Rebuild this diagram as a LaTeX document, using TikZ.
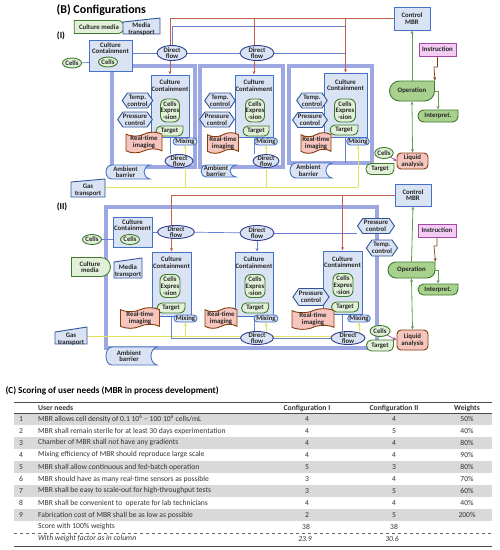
\documentclass[tikz,border=0pt]{standalone}
\usepackage{fontspec}
\setmainfont{Carlito}
\usetikzlibrary{shapes.geometric,shapes.symbols,shapes.misc,arrows.meta,calc}
\pgfdeclarelayer{fr}\pgfdeclarelayer{bg}\pgfsetlayers{fr,bg,main}
\definecolor{bfill}{HTML}{DAE3F3}
\definecolor{bdraw}{HTML}{2F5597}
\definecolor{ccdraw}{HTML}{4472C4}
\definecolor{dfdraw}{HTML}{2F3B8F}
\definecolor{framec}{HTML}{9DA8E2}
\definecolor{gfill}{HTML}{E2F0D9}
\definecolor{gdraw}{HTML}{3D7A2E}
\definecolor{opfill}{HTML}{A9D18E}
\definecolor{rfill}{HTML}{F6C5BE}
\definecolor{rdraw}{HTML}{843C0C}
\definecolor{redl}{HTML}{C0604D}
\definecolor{lblue}{HTML}{6A80D0}
\definecolor{yell}{HTML}{E3E35A}
\definecolor{gline}{HTML}{5E9E4E}
\definecolor{ifill}{HTML}{F3CBF3}
\definecolor{idraw}{HTML}{A349A4}
\definecolor{rowgray}{HTML}{D9D9D9}
\tikzset{
 base/.style={font=\fontsize{6.8}{6.7}\selectfont\bfseries, align=center, inner sep=0pt, line width=0.9pt, text=black!85},
 ccbox/.style={base, rectangle, draw=ccdraw, fill=bfill},
 hexa/.style={base, signal, signal to=east and west, signal pointer angle=110, draw=bdraw, fill=bfill},
 dflow/.style={base, ellipse, draw=dfdraw, fill=bfill, inner ysep=-1.5pt},
 mixs/.style={base, rounded rectangle, draw=ccdraw, fill=bfill},
 gcell/.style={base, ellipse, draw=gdraw, fill=gfill},
 cexp/.style={base, rectangle, rounded corners=6pt, draw=gdraw, fill=gfill},
 cmedia/.style={base, rounded rectangle, rounded rectangle left arc=none, draw=gdraw, fill=gfill},
 rti/.style={base, tape, tape bend height=4pt, draw=rdraw, fill=rfill},
 liq/.style={base, rectangle, rounded corners=4pt, draw=rdraw, fill=rfill},
 instr/.style={base, rectangle, draw=idraw, fill=ifill},
 txt/.style={base, draw=none, fill=none},
 frm/.style={draw=framec, line width=3.5pt},
 bl/.style={draw=lblue, line width=0.7pt},
 rl/.style={draw=redl, line width=0.8pt},
 yl/.style={draw=yell, line width=0.9pt},
 gl/.style={draw=gline, line width=0.8pt},
 brl/.style={draw=rdraw, line width=0.7pt},
 pl/.style={draw=idraw, line width=0.7pt},
 tip/.style={-{Stealth[length=3.5pt,width=3pt]}},
 tips2/.style={{Stealth[length=3.5pt,width=3pt]}-{Stealth[length=3.5pt,width=3pt]}},
 tb/.style={font=\fontsize{7.6}{8}\selectfont, text=black!80, inner sep=0pt},
 tbh/.style={tb, font=\fontsize{7.6}{8}\selectfont\bfseries},
 tbi/.style={tb, font=\fontsize{7.6}{8}\selectfont\itshape},
}
% leaf shape: name, x, y, w, h, radius, colours, text
\newcommand\leafshape[8]{%
 \filldraw[#7, line width=0.9pt, line cap=rect, rounded corners=#6]
   ({#2+#4/2},{#3-#5/2}) -- ({#2+#4/2},{#3+#5/2}) -- ({#2-#4/2},{#3+#5/2}) -- ({#2-#4/2},{#3-#5/2}) -- ({#2+#4/2},{#3-#5/2});
 \node[txt, minimum width=#4, minimum height=#5] (#1) at (#2,#3) {#8};}
% manual input: name, x1, x2, ytopleft, ytopright, ybottom, text
\newcommand\minput[7]{%
 \filldraw[draw=bdraw, fill=bfill, line width=0.9pt] (#2,#4) -- (#3,#5) -- (#3,#6) -- (#2,#6) -- cycle;
 \node[txt] (#1) at ({(#2+#3)/2},{(#4+#6)/2+1}) {#7};}
% ambient barrier: name, x1, x2, y1, y2, text
\newcommand\ambient[6]{%
 \filldraw[draw=ccdraw, fill=bfill, line width=0.9pt] (#3,#4) -- ({#2+7},#4) .. controls ({#2-1},#4) and ({#2-1},#5) .. ({#2+7},#5) -- (#3,#5) .. controls ({#3-8},{#5-2}) and ({#3-8},{#4+2}) .. (#3,#4) -- cycle;
 \node[txt] (#1) at ({(#2+#3)/2-2},{(#4+#5)/2}) {#6};}
\newcommand\trow[6]{%
 \node[tb] (n#1) at (21,#2) {#1};
 \node[tb, anchor=west] (t#1) at (38,#2) {#3};
 \node[tb] (a#1) at (307,#2) {#4};
 \node[tb] (b#1) at (394,#2) {#5};
 \node[tb] (w#1) at (467,#2) {#6\%};}
\begin{document}
\begin{tikzpicture}[x=1pt,y=-1pt]
\useasboundingbox (0,0) rectangle (500,550);
\begin{pgfonlayer}{fr}
\draw[frm] (112,66) rectangle (195,167);
\draw[frm] (200,66) rectangle (283,167);
\draw[frm] (289,66) rectangle (372,163);
\draw[frm] (106,207) rectangle (377,348);
\end{pgfonlayer}

% ---------- titles
\node[anchor=west, font=\fontsize{12}{13}\selectfont\bfseries] (tB) at (53,10) {(B) Configurations};
\node[font=\fontsize{9}{10}\selectfont\bfseries] (tI) at (61,36) {(I)};
\node[font=\fontsize{9}{10}\selectfont\bfseries] (tII) at (62,207) {(II)};

% ---------- configuration I, top left
\node[cmedia, minimum width=50, minimum height=13] (cm1) at (99,27) {Culture media};
\minput{mt1}{123}{160}{22}{18}{34}{Media\\transport}
\node[ccbox, minimum width=43, minimum height=31] (cc0) at (110.5,55.5) {};
\node[txt] (cc0t) at (110.5,48) {Culture\\Containment};
\node[gcell, minimum width=19, minimum height=10] (ci0) at (108,62) {Cells};
\node[gcell, minimum width=19, minimum height=10] (co0) at (72,63) {Cells};
\node[dflow, minimum width=30, minimum height=15] (df1) at (172,53) {Direct\\flow};
\node[dflow, minimum width=34, minimum height=15] (df2) at (257,53) {Direct\\flow};

% module 1
\node[ccbox, minimum width=38, minimum height=62] (cc1) at (170,106) {};
\node[txt] (cc1t) at (170,85.5) {Culture\\Containment};
\node[hexa, minimum width=25, minimum height=15] (tm1) at (137.5,100.5) {Temp.\\control};
\node[hexa, minimum width=32, minimum height=15] (pr1) at (135,119.5) {Pressure\\control};
\node[cexp, minimum width=19, minimum height=23] (ce1) at (170,110.5) {Cells\\Expres\\-sion};
\leafshape{tg1}{169.5}{131}{27}{10}{5}{draw=gdraw, fill=gfill}{Target}
\node[rti, minimum width=36, minimum height=17] (rti1) at (144,142.5) {Real-time\\imaging};
\node[mixs, minimum width=24, minimum height=7] (mx1) at (185,141.5) {Mixing};
\node[dflow, minimum width=28, minimum height=13] (df1b) at (179,161) {Direct\\flow};
\ambient{amb1}{105}{150}{165}{179}{Ambient\\barrier}
% module 2
\node[ccbox, minimum width=38, minimum height=62] (cc2) at (254,106) {};
\node[txt] (cc2t) at (254,85.5) {Culture\\Containment};
\node[hexa, minimum width=25, minimum height=15] (tm2) at (220,100.5) {Temp.\\control};
\node[hexa, minimum width=31, minimum height=15] (pr2) at (217,119.5) {Pressure\\control};
\node[cexp, minimum width=19, minimum height=23] (ce2) at (255,110.5) {Cells\\Expres\\-sion};
\leafshape{tg2}{256}{131}{26}{10}{5}{draw=gdraw, fill=gfill}{Target}
\node[rti, minimum width=31, minimum height=17] (rti2) at (223,143) {Real-time\\imaging};
\node[mixs, minimum width=23, minimum height=7] (mx2) at (266,141.5) {Mixing};
\node[dflow, minimum width=26, minimum height=13] (df2b) at (266,161) {Direct\\flow};
\ambient{amb2}{200}{236}{165}{177}{Ambient\\barrier}
% module 3
\node[ccbox, minimum width=43, minimum height=64] (cc3) at (345.5,105) {};
\node[txt] (cc3t) at (345.5,85) {Culture\\Containment};
\node[hexa, minimum width=28, minimum height=15] (tm3) at (312,100.5) {Temp.\\control};
\node[hexa, minimum width=33, minimum height=15] (pr3) at (310,120) {Pressure\\control};
\node[cexp, minimum width=21, minimum height=23] (ce3) at (345,110.5) {Cells\\Expres\\-sion};
\leafshape{tg3}{344}{130}{28}{10}{5}{draw=gdraw, fill=gfill}{Target}
\node[rti, minimum width=30, minimum height=19] (rti3) at (316,143) {Real-time\\imaging};
\node[mixs, minimum width=22, minimum height=7] (mx3) at (358,141.5) {Mixing};
\ambient{amb3}{289}{332}{163}{178}{Ambient\\barrier}
\minput{gas1}{71}{105}{182}{179}{197}{Gas\\transport}

% right side I
\node[ccbox, minimum width=36, minimum height=23] (ctl1) at (412,18.5) {Control\\MBR};
\node[instr, minimum width=37, minimum height=13] (ins1) at (437.5,49.5) {Instruction};
\leafshape{op1}{412}{91}{45}{20}{10}{draw=gdraw, fill=opfill}{Operation}
\leafshape{int1}{438}{116}{40}{12}{6}{draw=gdraw, fill=opfill}{Interpret.}
\node[liq, minimum width=31, minimum height=16] (liq1) at (412.5,161) {Liquid\\analysis};
\node[gcell, minimum width=18, minimum height=11] (cr1) at (384,153) {Cells};
\leafshape{tr1}{380}{169}{28}{11}{5}{draw=gdraw, fill=gfill}{Target}

% ---------- configuration II
\node[ccbox, minimum width=36, minimum height=22] (ctl2) at (413,195) {Control\\MBR};
\node[ccbox, minimum width=39, minimum height=30] (cc0b) at (132.5,232) {};
\node[txt] (cc0bt) at (132.5,225) {Culture\\Containment};
\node[gcell, minimum width=19, minimum height=10] (ci0b) at (130,239.5) {Cells};
\node[gcell, minimum width=19, minimum height=10] (co0b) at (92,239.5) {Cells};
\node[dflow, minimum width=37, minimum height=13] (df1c) at (176,232) {Direct\\flow};
\node[dflow, minimum width=34, minimum height=15] (df2c) at (257,233) {Direct\\flow};
\node[hexa, minimum width=37, minimum height=15] (prr) at (376,226) {Pressure\\control};
\node[hexa, minimum width=30, minimum height=16] (tmr) at (382,248) {Temp.\\control};
\node[cmedia, minimum width=39, minimum height=19] (cm2) at (90,267) {Culture\\media};
\minput{mt2}{114}{142}{262}{258}{278}{Media\\transport}
% module 1 II
\node[ccbox, minimum width=39, minimum height=64] (cc1b) at (171.5,284) {};
\node[txt] (cc1bt) at (171.5,262.5) {Culture\\Containment};
\node[cexp, minimum width=20, minimum height=23] (ce1b) at (170,286) {Cells\\Expres\\-sion};
\leafshape{tg1b}{171}{308}{28}{10}{5}{draw=gdraw, fill=gfill}{Target}
\node[rti, minimum width=39, minimum height=19] (rti1b) at (140,318) {Real-time\\imaging};
\node[mixs, minimum width=23, minimum height=7] (mx1b) at (185.5,318.5) {Mixing};
% module 2 II
\node[ccbox, minimum width=38, minimum height=64] (cc2b) at (254,284) {};
\node[txt] (cc2bt) at (254,262.5) {Culture\\Containment};
\node[cexp, minimum width=20, minimum height=23] (ce2b) at (255,286) {Cells\\Expres\\-sion};
\leafshape{tg2b}{255}{308}{27}{10}{5}{draw=gdraw, fill=gfill}{Target}
\node[rti, minimum width=32, minimum height=19] (rti2b) at (221,318) {Real-time\\imaging};
\node[mixs, minimum width=24, minimum height=7] (mx2b) at (266,318.5) {Mixing};
\node[dflow, minimum width=33, minimum height=13] (df2d) at (257,338) {Direct\\flow};
% module 3 II
\node[ccbox, minimum width=39, minimum height=63] (cc3b) at (342.5,282.5) {};
\node[txt] (cc3bt) at (342.5,262) {Culture\\Containment};
\node[cexp, minimum width=20, minimum height=23] (ce3b) at (343,285) {Cells\\Expres\\-sion};
\leafshape{tg3b}{345}{307}{27}{10}{5}{draw=gdraw, fill=gfill}{Target}
\node[hexa, minimum width=36, minimum height=17] (pr3b) at (311,297) {Pressure\\control};
\node[rti, minimum width=42, minimum height=18] (rti3b) at (313,319) {Real-time\\imaging};
\node[mixs, minimum width=22, minimum height=7] (mx3b) at (359,318.5) {Mixing};
\node[dflow, minimum width=34, minimum height=13] (df3d) at (348,338) {Direct\\flow};
\minput{gas2}{55}{87}{332}{327}{344}{Gas\\transport}
\ambient{amb4}{105}{157}{347}{365}{Ambient\\barrier}
% right side II
\node[gcell, minimum width=20, minimum height=11] (cr2) at (380,331) {Cells};
\leafshape{tr2}{380}{345.5}{27}{11}{5}{draw=gdraw, fill=gfill}{Target}
\node[liq, minimum width=31, minimum height=20] (liq2) at (412.5,340) {Liquid\\analysis};
\leafshape{op2}{411.5}{270}{47}{16}{8}{draw=gdraw, fill=opfill}{Operation}
\node[instr, minimum width=38, minimum height=13] (ins2) at (437,230.5) {Instruction};
\leafshape{int2}{438}{289.5}{40}{11}{5.5}{draw=gdraw, fill=opfill}{Interpret.}

% ---------- connectors
\begin{pgfonlayer}{bg}
% I
\draw[bl, tip] (co0) -- (ci0);
\draw[bl] (cc0.east |- df1.west) -- (df1.west);
\draw[bl] (df1) -- (df2);
\draw[bl] (df2.east) -- (df2.east -| cc3.north);
\coordinate (j1) at (345.5,26);
\draw[bl] (df1.north) |- (j1);
\draw[rl, tip] (ctl1.west) -| (cc1.north);
\draw[rl, tip] (ctl1.west) -| (cc2.north);
\draw[rl, tip] (ctl1.west) -| (cc3.north);
\draw[bl] (cc1.south) -- (cc1.south |- df1b.north);
\draw[bl] (cc2.south) -- (cc2.south |- df2b.north);
\draw[bl] (cc3.south) -- (345.5,163);
\coordinate (gy1) at (105,187);
\draw[yl] (gy1) -- (358,187);
\draw[yl, tip] (mx1.south |- gy1) -- (mx1.south);
\draw[yl, tip] (mx2.south |- gy1) -- (mx2.south);
\draw[yl, tip] (mx3.south |- gy1) -- (mx3.south);
\coordinate (k1) at (434,67);
\draw[brl, tip] (ins1.south) |- (k1) -- (op1.north east);
\draw[gl, tip] (op1.north) -- (ctl1.south);
\draw[gl, tip] (op1.east) -| (int1.north);
\draw[gl, tips2] (op1.south) -- (liq1.north);
\draw[pl, tip] (cr1.south east) -- (liq1.west);
% II
\draw[bl, tip] (co0b) -- (ci0b);
\draw[bl] (cc0b.east |- df1c.west) -- (df1c.west);
\draw[bl] (df1c) -- (df2c);
\draw[bl] (df2c.east) -- (df2c.east -| prr.west);
\draw[rl, tip] (ctl2.west) -| (cc1b.north);
\draw[rl, tip] (ctl2.west) -| (cc3b.north);
\draw[bl, tip] (df2c.south) -- (df2c.south |- cc2b.north);
\coordinate (gy2) at (87,336);
\draw[yl] (gy2) -- (359,336);
\draw[yl, tip] (mx1b.south |- gy2) -- (mx1b.south);
\draw[yl, tip] (mx2b.south |- gy2) -- (mx2b.south);
\draw[yl, tip] (mx3b.south |- gy2) -- (mx3b.south);
\draw[bl] (cc1b.south) |- (df2d.west);
\draw[bl] (df2d) -- (df3d);
\draw[bl] (cc2b.south) -- (cc2b.south |- df2d.north);
\draw[bl] (cc3b.south) -- (cc3b.south |- df3d.north);
\coordinate (k2) at (434,246);
\draw[brl, tip] (ins2.south) |- (k2) -- (op2.north east);
\draw[gl, tip] (op2.north) -- (ctl2.south);
\draw[gl, tip] (op2.east) -| (int2.north);
\draw[gl, tips2] (op2.south) -- (liq2.north);
\draw[pl, tip] (cr2.south east) -- (liq2.west);
\end{pgfonlayer}

% ---------- table
\node[anchor=west, font=\fontsize{9.2}{10}\selectfont\bfseries] (tC) at (2,391) {(C) Scoring of user needs (MBR in process development)};
\fill[rowgray] (14,413) rectangle (492,425);
\fill[rowgray] (14,437) rectangle (492,449);
\fill[rowgray] (14,461) rectangle (492,473);
\fill[rowgray] (14,485) rectangle (492,497);
\fill[rowgray] (14,509) rectangle (492,521);
\draw[black!70, line width=0.8pt] (14,402) -- (492,402);
\draw[black!70, line width=0.6pt] (14,413) -- (492,413);
\draw[black!60, line width=0.6pt, dashed] (14,533) -- (492,533);
\draw[black!70, line width=0.8pt] (14,546) -- (492,546);
\node[tbh, anchor=west] (hU) at (38,408) {User needs};
\node[tbh] (hA) at (307,408) {Configuration I};
\node[tbh] (hB) at (394,408) {Configuration II};
\node[tbh] (hW) at (467,408) {Weights};
\trow{1}{419}{MBR allows cell density of 0.1 10\textsuperscript{6} – 100 10\textsuperscript{6} cells/mL}{4}{4}{50}
\trow{2}{431}{MBR shall remain sterile for at least 30 days experimentation}{4}{5}{40}
\trow{3}{443}{Chamber of MBR shall not have any gradients}{4}{4}{80}
\trow{4}{455}{Mixing efficiency of MBR should reproduce large scale}{4}{4}{90}
\trow{5}{467}{MBR shall allow continuous and fed-batch operation}{5}{3}{80}
\trow{6}{479}{MBR should have as many real-time sensors as possible}{3}{4}{70}
\trow{7}{491}{MBR shall be easy to scale-out for high-throughput tests}{3}{5}{60}
\trow{8}{503}{MBR shall be convenient to\ \ operate for lab technicians}{4}{4}{40}
\trow{9}{515}{Fabrication cost of MBR shall be as low as possible}{2}{5}{200}
\node[tb, anchor=west] (sc) at (38,527) {Score with 100\% weights};
\node[tb] (sa) at (306,527) {38};
\node[tb] (sb) at (394,527) {38};
\node[tbi, anchor=west] (wc) at (38,539) {With weight factor as in column};
\node[tbi] (wa) at (305,539) {23.9};
\node[tbi] (wb) at (392,539) {30.6};
\end{tikzpicture}
\end{document}
